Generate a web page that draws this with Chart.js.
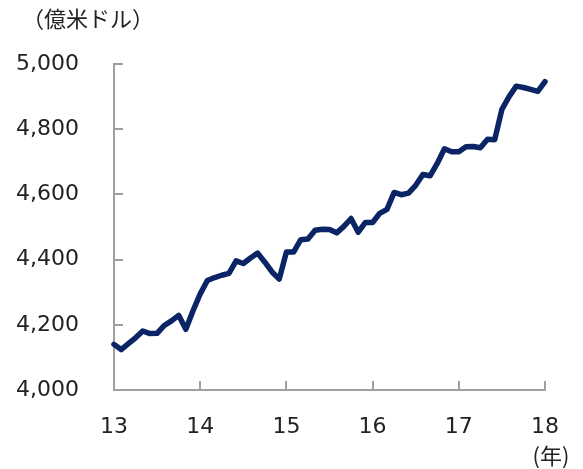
<!DOCTYPE html>
<html>
<head>
<meta charset="utf-8">
<script src="https://cdn.jsdelivr.net/npm/chart.js@4/dist/chart.umd.min.js"></script>
<style>
  html, body { margin: 0; padding: 0; background: #fff; }
  #c { display: block; }
</style>
</head>
<body>
<canvas id="c" width="583" height="469"></canvas>
<script>
// ── Data ─────────────────────────────────────────────────────────────
// monthly, Jan 2013 .. Jan 2018 (億米ドル)
const months = []
for (let y = 13; y <= 18; y++) {
  for (let m = 1; m <= 12; m++) {
    if (y === 18 && m > 1) break
    months.push(y + '/' + m)
  }
}
const values = [
  4140, 4124, 4142, 4160, 4181, 4173, 4174, 4198, 4212, 4229, 4186, 4243,
  4295, 4336, 4345, 4352, 4358, 4396, 4388, 4405, 4420, 4392, 4362, 4340,
  4423, 4423, 4461, 4463, 4490, 4493, 4492, 4482, 4502, 4526, 4484, 4514,
  4514, 4542, 4554, 4606, 4599, 4604, 4628, 4661, 4657, 4695, 4740, 4731,
  4731, 4746, 4747, 4743, 4769, 4768, 4861, 4900, 4932, 4928, 4922, 4916,
  4946
]
const yearLabels = ['13', '14', '15', '16', '17', '18']
const unitLabel = '（億米ドル）'
const yearUnit = '(年)'

const AXIS = '#a0a0a0'
const NUM_FONT = { family: '"DejaVu Sans", Verdana, sans-serif', size: 22 }
const JP_FONT = '"Noto Sans CJK JP", sans-serif'

// ── Inward tick marks + unit labels ──────────────────────────────────
const decor = {
  id: 'decor',
  afterDraw(chart) {
    const { ctx, chartArea: a, scales: { x, y } } = chart
    ctx.save()
    ctx.strokeStyle = AXIS
    ctx.lineWidth = 2
    ctx.beginPath()
    y.ticks.forEach(t => {
      const py = Math.round(y.getPixelForValue(t.value))
      ctx.moveTo(a.left, py); ctx.lineTo(a.left + 9, py)
    })
    months.forEach((m, i) => {
      if (i % 12 !== 0) return
      const px = Math.round(x.getPixelForValue(i))
      ctx.moveTo(px, a.bottom); ctx.lineTo(px, a.bottom - 9)
    })
    ctx.stroke()

    ctx.fillStyle = '#222'
    ctx.font = '22px ' + JP_FONT
    ctx.textBaseline = 'middle'
    ctx.textAlign = 'left'
    ctx.fillText(unitLabel, 22, 19)
    ctx.textAlign = 'center'
    ctx.fillText(yearUnit, 551, 456)
    ctx.restore()
  }
}

new Chart(document.getElementById('c'), {
  type: 'line',
  data: {
    labels: months,
    datasets: [{
      data: values,
      borderColor: '#0a2466',
      borderWidth: 5.5,
      pointRadius: 0,
      tension: 0,
      borderJoinStyle: 'round',
      borderCapStyle: 'round',
      clip: false
    }]
  },
  options: {
    responsive: false,
    animation: false,
    layout: { padding: { top: 64, right: 38, bottom: 0, left: 0 } },
    plugins: { legend: { display: false }, tooltip: { enabled: false } },
    scales: {
      x: {
        type: 'category',
        offset: false,
        grid: { display: false, drawTicks: false },
        border: { display: true, color: AXIS, width: 2 },
        afterFit: s => { s.height = 79 },
        ticks: {
          autoSkip: false,
          maxRotation: 0,
          padding: 24,
          color: '#222',
          font: NUM_FONT,
          callback: (v, i) => i % 12 === 0 ? yearLabels[i / 12] : ''
        }
      },
      y: {
        min: 4000,
        max: 5000,
        grid: { display: false, drawTicks: false },
        border: { display: true, color: AXIS, width: 2 },
        afterFit: s => { s.width = 114 },
        ticks: {
          stepSize: 200,
          padding: 35,
          color: '#222',
          font: NUM_FONT,
          callback: v => v.toLocaleString('en-US')
        }
      }
    }
  },
  plugins: [decor]
})
</script>
</body>
</html>
